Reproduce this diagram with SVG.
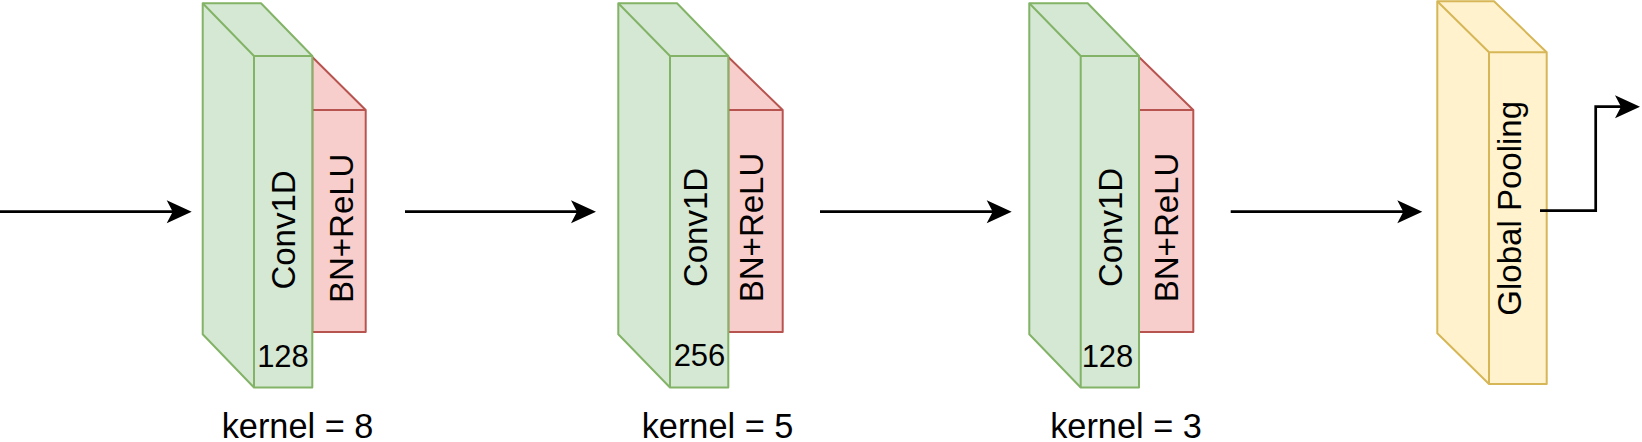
<svg xmlns="http://www.w3.org/2000/svg" width="1642" height="442" viewBox="0 0 1642 442">
<style>
.g{fill:#d5e8d4;stroke:#82b366;stroke-width:2;stroke-linejoin:round}
.r{fill:#f8cecc;stroke:#b85450;stroke-width:2;stroke-linejoin:round}
.y{fill:#fff2cc;stroke:#d6b656;stroke-width:2;stroke-linejoin:round}
.e{fill:none}
.t{font-family:"Liberation Sans",Arial,Helvetica,sans-serif;font-size:33px;fill:#000;text-anchor:middle}
.k{font-family:"Liberation Sans",Arial,Helvetica,sans-serif;font-size:34.3px;fill:#000;text-anchor:middle}
.n{font-family:"Liberation Sans",Arial,Helvetica,sans-serif;font-size:31px;fill:#000;text-anchor:middle}
.c{fill:none;stroke:#000;stroke-width:2.7}
</style>
<defs>
<marker id="ah" markerUnits="userSpaceOnUse" viewBox="-26 -12 27 24" markerWidth="27" markerHeight="24" refX="-10" refY="0" orient="auto">
<path d="M0,0 L-25,-11.5 L-19,0 L-25,11.5 Z" fill="#000"/>
</marker>
</defs>

<g id="block1">
<path class="r" d="M312.3,57 L365.7,110 L365.7,332 L312.3,332 Z"/>
<path class="r e" d="M312.3,110 H365.7"/>
<path class="g" d="M202.7,3.3 H261 L312.3,56 V387.5 H254 L202.7,334.3 Z"/>
<path class="g e" d="M202.7,3.3 L254,56 H312.3 M254,56 V387.5"/>
<text class="t" transform="translate(295,230) rotate(-90)">Conv1D</text>
<text class="t" transform="translate(353.3,228.3) rotate(-90)">BN+ReLU</text>
<text class="n" x="283" y="367">128</text>
</g>

<g id="block2">
<path class="r" d="M728.3,57 L782.7,110 L782.7,332 L728.3,332 Z"/>
<path class="r e" d="M728.3,110 H782.7"/>
<path class="g" d="M618.3,3.3 H677 L728.3,56 V387.5 H670 L618.3,334.3 Z"/>
<path class="g e" d="M618.3,3.3 L670,56 H728.3 M670,56 V387.5"/>
<text class="t" transform="translate(707,227.5) rotate(-90)">Conv1D</text>
<text class="t" transform="translate(763.3,227.5) rotate(-90)">BN+ReLU</text>
<text class="n" x="699.5" y="365.5">256</text>
</g>

<g id="block3">
<path class="r" d="M1139,57 L1193.3,110 L1193.3,332 L1139,332 Z"/>
<path class="r e" d="M1139,110 H1193.3"/>
<path class="g" d="M1029.3,3.3 H1087.7 L1139,56 V387.5 H1080.7 L1029.3,334.3 Z"/>
<path class="g e" d="M1029.3,3.3 L1080.7,56 H1139 M1080.7,56 V387.5"/>
<text class="t" transform="translate(1121.7,227.5) rotate(-90)">Conv1D</text>
<text class="t" transform="translate(1178.3,227.5) rotate(-90)">BN+ReLU</text>
<text class="n" x="1107.5" y="366.7">128</text>
</g>

<g id="pooling">
<path class="y" d="M1437.3,1.2 H1494 L1546.7,52.3 V384 H1489 L1437.3,333.3 Z"/>
<path class="y e" d="M1437.3,1.2 L1489,52.3 H1546.7 M1489,52.3 V384"/>
<text class="t" transform="translate(1521,208.3) rotate(-90)">Global Pooling</text>
</g>

<g id="labels">
<text class="k" x="297.5" y="437.5">kernel = 8</text>
<text class="k" x="717.5" y="437.5">kernel = 5</text>
<text class="k" x="1126" y="437.5">kernel = 3</text>
</g>

<g id="connectors">
<path class="c" d="M0,211.7 H181.7" marker-end="url(#ah)"/>
<path class="c" d="M405,211.7 H586" marker-end="url(#ah)"/>
<path class="c" d="M820,211.7 H1001.7" marker-end="url(#ah)"/>
<path class="c" d="M1230.7,211.7 H1412.3" marker-end="url(#ah)"/>
<path class="c" d="M1540,210.7 H1595.7 V106.7 H1630" marker-end="url(#ah)"/>
</g>
</svg>
